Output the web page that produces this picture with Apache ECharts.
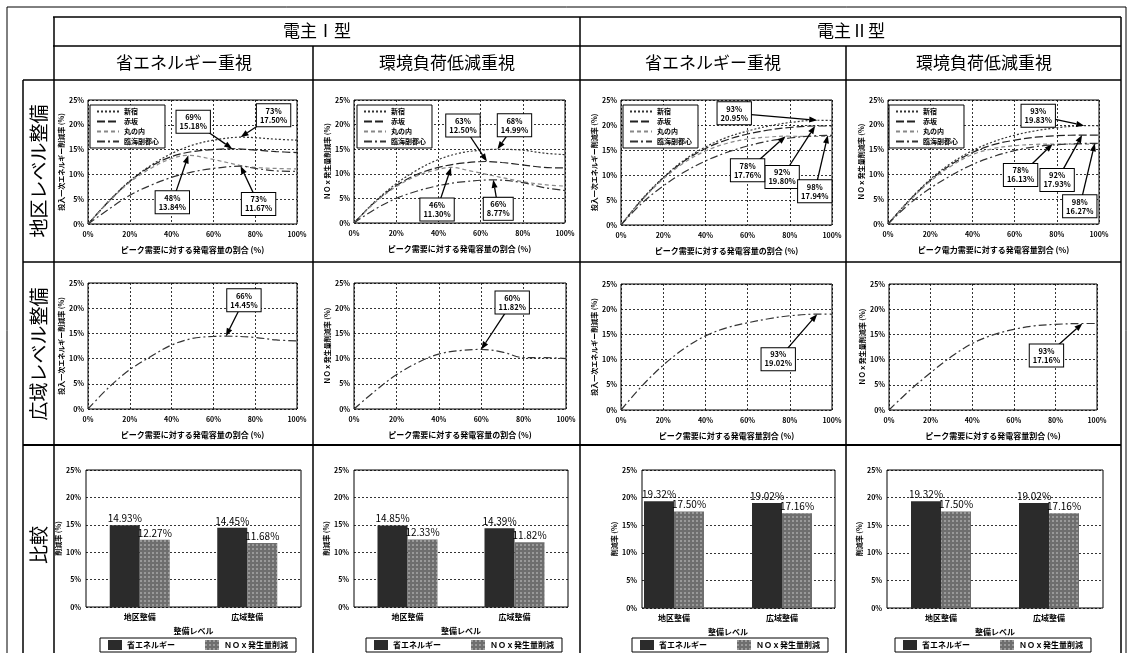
<!DOCTYPE html>
<html>
<head>
<meta charset="utf-8">
<script src="https://cdn.jsdelivr.net/npm/echarts@6/dist/echarts.min.js"></script>
<style>
  html, body { margin: 0; padding: 0; background: #fff; }
  #main { width: 1132px; height: 653px; }
</style>
</head>
<body>
<div id="main"></div>
<script>
// 地区レベル整備 4地区の曲線 [発電容量割合%, 削減率%]
const curveNames = ['新宿', '赤坂', '丸の内', '臨海副都心']

const districtEnergyI = [
  [[0, 0], [10, 4.6], [20, 8.7], [30, 11.8], [40, 14.2], [50, 15.9], [60, 16.9], [73, 17.50], [80, 17.4], [90, 17.1], [100, 16.9]],
  [[0, 0], [10, 4.6], [20, 8.6], [30, 11.6], [40, 13.6], [50, 14.6], [60, 15.0], [69, 15.18], [80, 14.9], [90, 14.6], [100, 14.4]],
  [[0, 0], [10, 4.5], [20, 8.4], [30, 11.2], [40, 13.2], [48, 13.84], [60, 13.0], [73, 11.8], [80, 11.4], [90, 11.2], [100, 11.1]],
  [[0, 0], [10, 3.0], [20, 5.8], [30, 7.8], [40, 9.4], [50, 10.5], [60, 11.2], [73, 11.67], [80, 11.2], [90, 10.7], [100, 10.6]]
]
const districtNoxI = [
  [[0, 0], [10, 4.4], [20, 8.0], [30, 10.8], [40, 12.9], [50, 14.2], [60, 14.8], [68, 14.99], [80, 14.8], [90, 14.2], [100, 13.9]],
  [[0, 0], [10, 4.3], [20, 7.6], [30, 9.9], [40, 11.3], [50, 12.1], [63, 12.50], [70, 12.3], [80, 11.8], [90, 11.3], [100, 11.2]],
  [[0, 0], [10, 4.2], [20, 7.4], [30, 9.6], [40, 10.9], [46, 11.30], [55, 10.6], [66, 9.6], [80, 8.4], [90, 7.8], [100, 7.5]],
  [[0, 0], [10, 2.8], [20, 5.0], [30, 6.5], [40, 7.6], [50, 8.3], [66, 8.77], [80, 8.2], [90, 7.2], [100, 6.6]]
]
const districtEnergyII = [
  [[0, 0], [10, 5.2], [20, 9.5], [30, 13.0], [40, 15.6], [50, 17.5], [60, 18.8], [70, 19.8], [80, 20.5], [93, 20.95], [100, 20.9]],
  [[0, 0], [10, 5.1], [20, 9.4], [30, 12.8], [40, 15.3], [50, 17.0], [60, 18.2], [70, 19.0], [80, 19.5], [92, 19.80], [100, 19.8]],
  [[0, 0], [10, 5.0], [20, 9.2], [30, 12.5], [40, 14.8], [50, 16.3], [60, 17.2], [70, 17.6], [78, 17.76], [90, 17.7], [100, 17.7]],
  [[0, 0], [10, 4.4], [20, 7.8], [30, 10.6], [40, 12.8], [50, 14.5], [60, 15.8], [70, 16.8], [80, 17.4], [90, 17.8], [98, 17.94], [100, 17.94]]
]
const districtNoxII = [
  [[0, 0], [10, 4.8], [20, 9.0], [30, 12.3], [40, 14.8], [50, 16.6], [60, 17.9], [70, 18.8], [80, 19.4], [93, 19.83], [100, 19.8]],
  [[0, 0], [10, 4.7], [20, 8.8], [30, 12.0], [40, 14.4], [50, 16.0], [60, 16.9], [70, 17.5], [80, 17.8], [92, 17.93], [100, 17.9]],
  [[0, 0], [10, 4.6], [20, 8.6], [30, 11.7], [40, 14.0], [50, 15.2], [60, 15.8], [70, 16.05], [78, 16.13], [90, 16.1], [100, 16.1]],
  [[0, 0], [10, 4.0], [20, 7.2], [30, 9.8], [40, 12.0], [50, 13.6], [60, 14.8], [70, 15.6], [80, 16.0], [90, 16.2], [98, 16.27], [100, 16.27]]
]

// 広域レベル整備 1本ずつ
const wideEnergyI = [[0, 0], [10, 4.3], [20, 7.8], [30, 10.4], [40, 12.7], [50, 14.0], [60, 14.4], [66, 14.45], [80, 14.2], [90, 13.7], [100, 13.5]]
const wideNoxI = [[0, 0], [10, 3.6], [20, 6.8], [30, 9.2], [40, 10.9], [50, 11.6], [60, 11.82], [70, 11.3], [80, 10.2], [90, 10.2], [100, 10.0]]
const wideEnergyII = [[0, 0], [10, 4.8], [20, 8.9], [30, 12.2], [40, 14.7], [50, 16.3], [60, 17.3], [70, 18.1], [80, 18.7], [93, 19.02], [100, 19.0]]
const wideNoxII = [[0, 0], [10, 3.9], [20, 7.4], [30, 10.6], [40, 13.2], [50, 14.9], [60, 16.0], [70, 16.7], [80, 17.0], [93, 17.16], [100, 17.16]]

// 比較
const levels = ['地区整備', '広域整備']
const barNames = ['省エネルギー', 'ＮＯｘ発生量削減']
const barEnergy = [[14.93, 14.45], [14.85, 14.39], [19.32, 19.02], [19.32, 19.02]]
const barNox = [[12.27, 11.68], [12.33, 11.82], [17.50, 17.16], [17.50, 17.16]]

const typeTitles = ['電主Ⅰ型', '電主Ⅱ型']
const focusTitles = ['省エネルギー重視', '環境負荷低減重視', '省エネルギー重視', '環境負荷低減重視']
const rowTitles = ['地区レベル整備', '広域レベル整備', '比較']
const yNames = ['投入一次エネルギー削減率 (%)', 'ＮＯｘ発生量削減率 (%)', '投入一次エネルギー削減率 (%)', 'ＮＯｘ発生量削減率 (%)']
const xNamesDistrict = ['ピーク需要に対する発電容量の割合 (%)', 'ピーク需要に対する発電容量の割合 (%)', 'ピーク需要に対する発電容量の割合 (%)', 'ピーク電力需要に対する発電容量割合 (%)']
const xNamesWide = ['ピーク需要に対する発電容量の割合 (%)', 'ピーク需要に対する発電容量の割合 (%)', 'ピーク需要に対する発電容量割合 (%)', 'ピーク需要に対する発電容量割合 (%)']

// ---- レイアウト ----
const FONT = '"Noto Sans CJK JP", sans-serif'
const gridBoxes = [
  { left: 88, top: 100, width: 209, height: 124 },
  { left: 354, top: 100, width: 211, height: 123 },
  { left: 621, top: 100, width: 211, height: 125 },
  { left: 888, top: 100, width: 211, height: 124 },
  { left: 88, top: 283, width: 209, height: 126 },
  { left: 354, top: 283, width: 212, height: 126 },
  { left: 621, top: 284, width: 211, height: 126 },
  { left: 889, top: 284, width: 208, height: 126 },
  { left: 86, top: 470, width: 215, height: 137 },
  { left: 354, top: 470, width: 214, height: 137 },
  { left: 642, top: 470, width: 193, height: 138 },
  { left: 887, top: 470, width: 216, height: 138 },
  { left: 620, top: 470, width: 216, height: 138 }  // 電主Ⅱ型 省エネの棒だけ左寄り
]
const barGridOf = [8, 9, 12, 11]
const lineLegendLeft = [90, 357, 623, 889]
const barLegendLeft = [100, 366, 632, 895]
// 注記の箱の位置（ピーク点からのずれ, px）
const districtNoteOffsets = [
  [[33, -22], [-39, -27], [-16, 47], [18, 38]],
  [[17, -24], [-24, -36], [-14, 42], [5, 29]],
  [[-83, -7], [-33, 51], [-38, 34], [-13, 56]],
  [[-46, -10], [-25, 45], [-32, 31], [-15, 63]]
]
const wideNoteOffsets = [[18, -36], [31, -47], [-39, 45], [-36, 32]]
const curveDash = [[2, 2], [8, 3], [4, 3], [8, 3, 2, 3]]
const curveColor = ['#333', '#222', '#888', '#333']

const districtCurves = [districtEnergyI, districtNoxI, districtEnergyII, districtNoxII]
const wideCurves = [wideEnergyI, wideNoxI, wideEnergyII, wideNoxII]

const dotted = { type: [2, 2], color: '#000', width: 0.8 }
const tickText = { fontSize: 7, fontWeight: 'bold', color: '#000', fontFamily: FONT }
const nameText = { fontSize: 8, fontWeight: 'bold', color: '#000', fontFamily: FONT }

const chart = echarts.init(document.getElementById('main'))

const grid = gridBoxes.map((b, i) => Object.assign({
  show: i !== 12, borderColor: '#000', borderWidth: 1, backgroundColor: 'transparent'
}, b))

const xAxis = []
const yAxis = []
for (let i = 0; i < 8; i++) {
  let c = i % 4
  xAxis.push({
    gridIndex: i, type: 'value', min: 0, max: 100, interval: 20,
    axisLabel: Object.assign({ formatter: '{value}%', margin: 7 }, tickText),
    axisLine: { show: false }, axisTick: { show: false },
    splitLine: { show: true, lineStyle: dotted },
    name: i < 4 ? xNamesDistrict[c] : xNamesWide[c],
    nameLocation: 'middle', nameGap: 22, nameTextStyle: nameText
  })
  yAxis.push({
    gridIndex: i, type: 'value', min: 0, max: 25, interval: 5,
    axisLabel: Object.assign({ formatter: '{value}%', margin: 4 }, tickText),
    axisLine: { show: false }, axisTick: { show: false },
    splitLine: { show: true, lineStyle: dotted },
    name: yNames[c], nameLocation: 'middle', nameGap: 15, nameRotate: 90, nameTextStyle: tickText
  })
}
for (let i = 8; i < 13; i++) {
  let showY = i !== 12
  if (i === 10) {
    xAxis.push({ gridIndex: i, type: 'value', show: false })
  } else {
    xAxis.push({
      gridIndex: i, type: 'category', data: levels,
      axisLabel: Object.assign({ margin: 6 }, nameText),
      axisLine: { show: false }, axisTick: { show: false }, splitLine: { show: false },
      name: '整備レベル', nameLocation: 'middle', nameGap: 20, nameTextStyle: nameText
    })
  }
  yAxis.push({
    gridIndex: i, type: 'value', min: 0, max: 25, interval: 5, show: showY,
    axisLabel: Object.assign({ formatter: '{value}%', margin: 5 }, tickText),
    axisLine: { show: false }, axisTick: { show: false },
    splitLine: { show: true, lineStyle: dotted },
    name: '削減率 (%)', nameLocation: 'middle', nameGap: 16, nameRotate: 90, nameTextStyle: tickText
  })
}

const series = []
districtCurves.forEach((curves, g) => {
  curves.forEach((data, k) => {
    series.push({
      type: 'line', name: curveNames[k], xAxisIndex: g, yAxisIndex: g, data: data,
      symbol: 'none', smooth: 0.35, silent: true,
      lineStyle: { color: curveColor[k], width: 1.2, type: curveDash[k] },
      itemStyle: { color: curveColor[k] }
    })
  })
})
wideCurves.forEach((data, c) => {
  series.push({
    type: 'line', name: '広域整備', xAxisIndex: 4 + c, yAxisIndex: 4 + c, data: data,
    symbol: 'none', smooth: 0.35, silent: true,
    lineStyle: { color: '#333', width: 1.2, type: [8, 3, 2, 3] }
  })
})
const barLabel = {
  show: true, position: 'top', distance: 2, fontSize: 10, color: '#000', fontFamily: FONT,
  formatter: p => p.value.toFixed(2) + '%'
}
barEnergy.forEach((vals, c) => {
  let g = barGridOf[c]
  series.push({
    type: 'bar', name: barNames[0], xAxisIndex: g, yAxisIndex: g, data: vals,
    barWidth: 30, barGap: '0%', label: barLabel,
    itemStyle: { color: '#2b2b2b' }
  })
  series.push({
    type: 'bar', name: barNames[1], xAxisIndex: g, yAxisIndex: g, data: barNox[c],
    barWidth: 30, barGap: '0%', label: barLabel,
    itemStyle: {
      color: '#6e6e6e',
      decal: { symbol: 'rect', symbolSize: 1, dashArrayX: [2, 2], dashArrayY: [2, 2], color: 'rgba(255,255,255,0.3)' }
    }
  })
})

const legend = []
lineLegendLeft.forEach(left => {
  legend.push({
    left: left, top: 105, orient: 'vertical', data: curveNames,
    backgroundColor: '#fff', borderColor: '#000', borderWidth: 1, padding: [3, 6],
    itemWidth: 22, itemHeight: 8, itemGap: 3, selectedMode: false,
    itemStyle: { opacity: 0 },
    textStyle: { fontSize: 7, fontWeight: 'bold', color: '#000', fontFamily: FONT }
  })
})
barLegendLeft.forEach(left => {
  legend.push({
    left: left, top: 638, orient: 'horizontal', data: barNames,
    backgroundColor: '#fff', borderColor: '#000', borderWidth: 1, padding: [2, 8],
    itemWidth: 14, itemHeight: 10, itemGap: 30, icon: 'rect', selectedMode: false,
    textStyle: { fontSize: 8, fontWeight: 'bold', color: '#000', fontFamily: FONT }
  })
})

chart.setOption({
  animation: false,
  textStyle: { fontFamily: FONT },
  grid: grid, xAxis: xAxis, yAxis: yAxis, legend: legend, series: series
})

// ---- 表の罫線と見出し ----
function seg (x1, y1, x2, y2, w) {
  return { type: 'line', silent: true, z: 50, shape: { x1: x1, y1: y1, x2: x2, y2: y2 }, style: { stroke: '#000', lineWidth: w || 1.5 } }
}
function label (x, y, text, size, rot) {
  return {
    type: 'text', x: x, y: y, rotation: rot || 0, z: 50, silent: true,
    style: { text: text, fontSize: size, fontFamily: FONT, fill: '#000', align: 'center', verticalAlign: 'middle' }
  }
}
const table = [
  { type: 'rect', silent: true, z: 50, shape: { x: 7, y: 7, width: 1119, height: 660 }, style: { fill: 'none', stroke: '#000', lineWidth: 1 } },
  seg(53, 17, 1121, 17), seg(53, 46, 1121, 46), seg(23, 80, 1121, 80),
  seg(23, 262, 1121, 262), seg(23, 445, 1121, 445, 2),
  seg(23, 80, 23, 653), seg(54, 17, 54, 653), seg(313, 46, 313, 653),
  seg(580, 17, 580, 653), seg(846, 46, 846, 653), seg(1121, 17, 1121, 653)
]
table.push(label(317, 31, typeTitles[0], 17), label(851, 31, typeTitles[1], 17))
;[184, 447, 713, 984].forEach((x, i) => table.push(label(x, 63, focusTitles[i], 17)))
;[171, 354, 545].forEach((y, i) => table.push(label(39, y, rowTitles[i], 19, Math.PI / 2)))

// ---- 注記（最大点に矢印） ----
function peakOf (data) {
  let best = data[0]
  data.forEach(p => { if (p[1] > best[1]) best = p })
  return best
}
function note (g, data, off) {
  let p = peakOf(data)
  let tip = chart.convertToPixel({ gridIndex: g }, p)
  let c = [tip[0] + off[0], tip[1] + off[1]]
  let dx = tip[0] - c[0], dy = tip[1] - c[1]
  let t = Math.min(17 / Math.abs(dx || 1e-6), 11 / Math.abs(dy || 1e-6))
  let from = [c[0] + dx * t, c[1] + dy * t]
  let len = Math.hypot(tip[0] - from[0], tip[1] - from[1])
  let ux = (tip[0] - from[0]) / len, uy = (tip[1] - from[1]) / len
  let hl = 8, hw = 3
  let bx = tip[0] - ux * hl, by = tip[1] - uy * hl
  return [
    { type: 'line', silent: true, z: 60, shape: { x1: from[0], y1: from[1], x2: bx, y2: by }, style: { stroke: '#000', lineWidth: 1.3 } },
    { type: 'polygon', silent: true, z: 60, shape: { points: [tip, [bx - uy * hw, by + ux * hw], [bx + uy * hw, by - ux * hw]] }, style: { fill: '#000' } },
    {
      type: 'text', x: c[0], y: c[1], silent: true, z: 61,
      style: {
        text: p[0] + '%\n' + p[1].toFixed(2) + '%', fontSize: 7.5, fontWeight: 'bold', lineHeight: 9,
        fontFamily: FONT, fill: '#000', align: 'center', verticalAlign: 'middle',
        backgroundColor: '#fff', borderColor: '#000', borderWidth: 1, padding: [2, 3]
      }
    }
  ]
}
let notes = []
districtCurves.forEach((curves, g) => {
  curves.forEach((data, k) => { notes = notes.concat(note(g, data, districtNoteOffsets[g][k])) })
})
wideCurves.forEach((data, c) => { notes = notes.concat(note(4 + c, data, wideNoteOffsets[c])) })

chart.setOption({ graphic: table.concat(notes) })
</script>
</body>
</html>
